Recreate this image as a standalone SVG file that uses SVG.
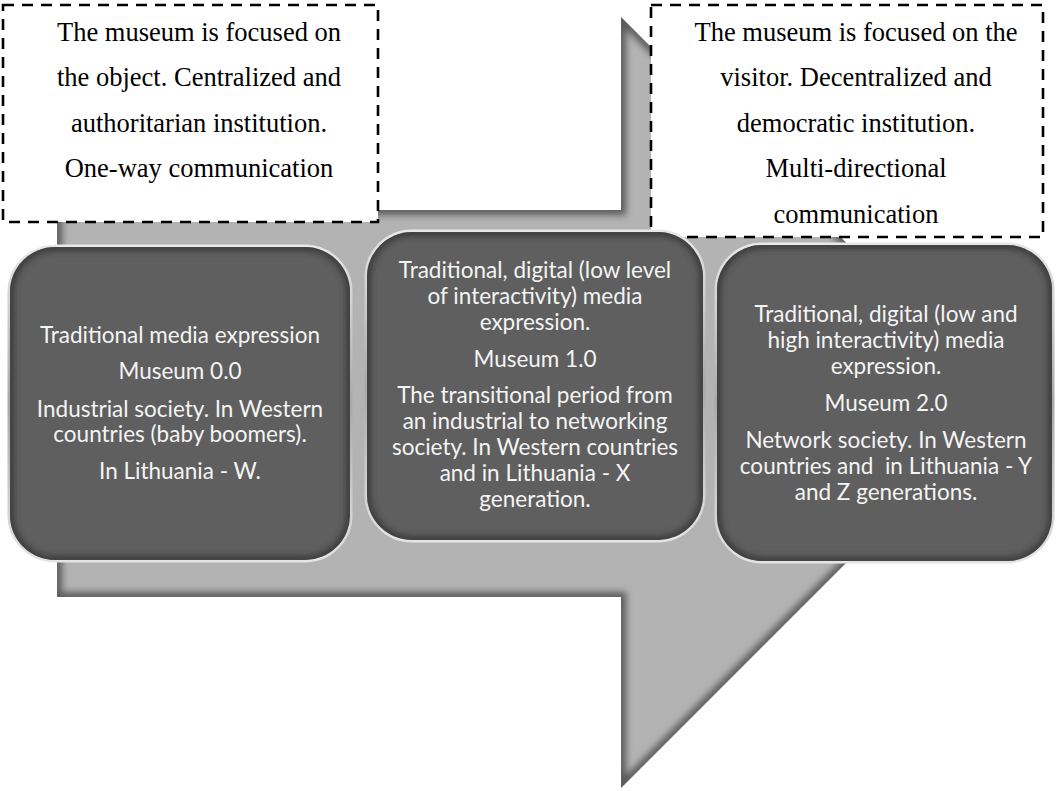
<svg xmlns="http://www.w3.org/2000/svg" width="1056" height="791" viewBox="0 0 1056 791">
<style>
.serif{font-family:"Liberation Serif","Times New Roman",serif;font-size:26.5px;fill:#000;text-anchor:middle}
.sans{font-family:Lato,"Open Sans",sans-serif;font-size:22.5px;fill:#f4f4f4;text-anchor:middle}
.dash{fill:#fff;stroke:#000;stroke-width:2.6;stroke-dasharray:11 8}
.boxrim{fill:none;stroke:url(#rimGrad);stroke-width:5}
.boxfill{fill:#5f5f5f}
.boxshade{fill:none;stroke:#3a3a3a;stroke-width:8;filter:url(#blur3)}
</style>
<defs>
<linearGradient id="rimGrad" x1="0" y1="0" x2="0" y2="1">
<stop offset="0" stop-color="#e8e8e8"/>
<stop offset="0.5" stop-color="#a8a8a8"/>
<stop offset="1" stop-color="#e4e4e4"/>
</linearGradient>
<filter id="blur3" x="-10%" y="-10%" width="120%" height="120%"><feGaussianBlur stdDeviation="3"/></filter>
<filter id="blur4" x="-10%" y="-10%" width="120%" height="120%"><feGaussianBlur stdDeviation="3.5"/></filter>
<path id="arrowPath" d="M57,210 L621,210 L621,17 L1006,403 L621,788 L621,597 L57,597 Z"/>
<clipPath id="arrowClip"><use href="#arrowPath"/></clipPath>
<clipPath id="c1"><rect x="10" y="247" width="340" height="313" rx="45"/></clipPath>
<clipPath id="c2"><rect x="367" y="232" width="336" height="308" rx="45"/></clipPath>
<clipPath id="c3"><rect x="717" y="245" width="335" height="316" rx="45"/></clipPath>
</defs>

<g id="arrow">
<use href="#arrowPath" fill="#b3b3b3"/>
<use href="#arrowPath" fill="none" stroke="#5a5a5a" stroke-width="10" filter="url(#blur4)" clip-path="url(#arrowClip)"/>
</g>

<g id="note-left">
<rect class="dash" x="3" y="5" width="375" height="217"/>
<text class="serif"><tspan x="199" y="41">The museum is focused on</tspan><tspan x="199" y="86">the object. Centralized and</tspan><tspan x="199" y="132">authoritarian institution.</tspan><tspan x="199" y="177">One-way communication</tspan></text>
</g>

<g id="note-right">
<rect class="dash" x="651" y="5" width="392" height="232"/>
<text class="serif"><tspan x="856" y="41">The museum is focused on the</tspan><tspan x="856" y="86">visitor. Decentralized and</tspan><tspan x="856" y="132">democratic institution.</tspan><tspan x="856" y="177">Multi-directional</tspan><tspan x="856" y="223">communication</tspan></text>
</g>

<g id="museum-0">
<rect class="boxrim" x="10" y="247" width="340" height="313" rx="45"/>
<rect class="boxfill" x="10" y="247" width="340" height="313" rx="45"/>
<rect class="boxshade" x="10" y="247" width="340" height="313" rx="45" clip-path="url(#c1)"/>
<text class="sans"><tspan x="180" y="343">Traditional media expression</tspan><tspan x="180" y="379">Museum 0.0</tspan><tspan x="180" y="417">Industrial society. In Western</tspan><tspan x="180" y="442">countries (baby boomers).</tspan><tspan x="180" y="479">In Lithuania - W.</tspan></text>
</g>

<g id="museum-1">
<rect class="boxrim" x="367" y="232" width="336" height="308" rx="45"/>
<rect class="boxfill" x="367" y="232" width="336" height="308" rx="45"/>
<rect class="boxshade" x="367" y="232" width="336" height="308" rx="45" clip-path="url(#c2)"/>
<text class="sans"><tspan x="535" y="278">Traditional, digital (low level</tspan><tspan x="535" y="304">of interactivity) media</tspan><tspan x="535" y="330">expression.</tspan><tspan x="535" y="367">Museum 1.0</tspan><tspan x="535" y="403">The transitional period from</tspan><tspan x="535" y="429">an industrial to networking</tspan><tspan x="535" y="455">society. In Western countries</tspan><tspan x="535" y="481">and in Lithuania - X</tspan><tspan x="535" y="507">generation.</tspan></text>
</g>

<g id="museum-2">
<rect class="boxrim" x="717" y="245" width="335" height="316" rx="45"/>
<rect class="boxfill" x="717" y="245" width="335" height="316" rx="45"/>
<rect class="boxshade" x="717" y="245" width="335" height="316" rx="45" clip-path="url(#c3)"/>
<text class="sans"><tspan x="886" y="322">Traditional, digital (low and</tspan><tspan x="886" y="348">high interactivity) media</tspan><tspan x="886" y="374">expression.</tspan><tspan x="886" y="411">Museum 2.0</tspan><tspan x="886" y="448">Network society. In Western</tspan><tspan x="886" y="474" style="white-space:pre">countries and  in Lithuania - Y</tspan><tspan x="886" y="500">and Z generations.</tspan></text>
</g>

<g id="connectors"></g>
</svg>
